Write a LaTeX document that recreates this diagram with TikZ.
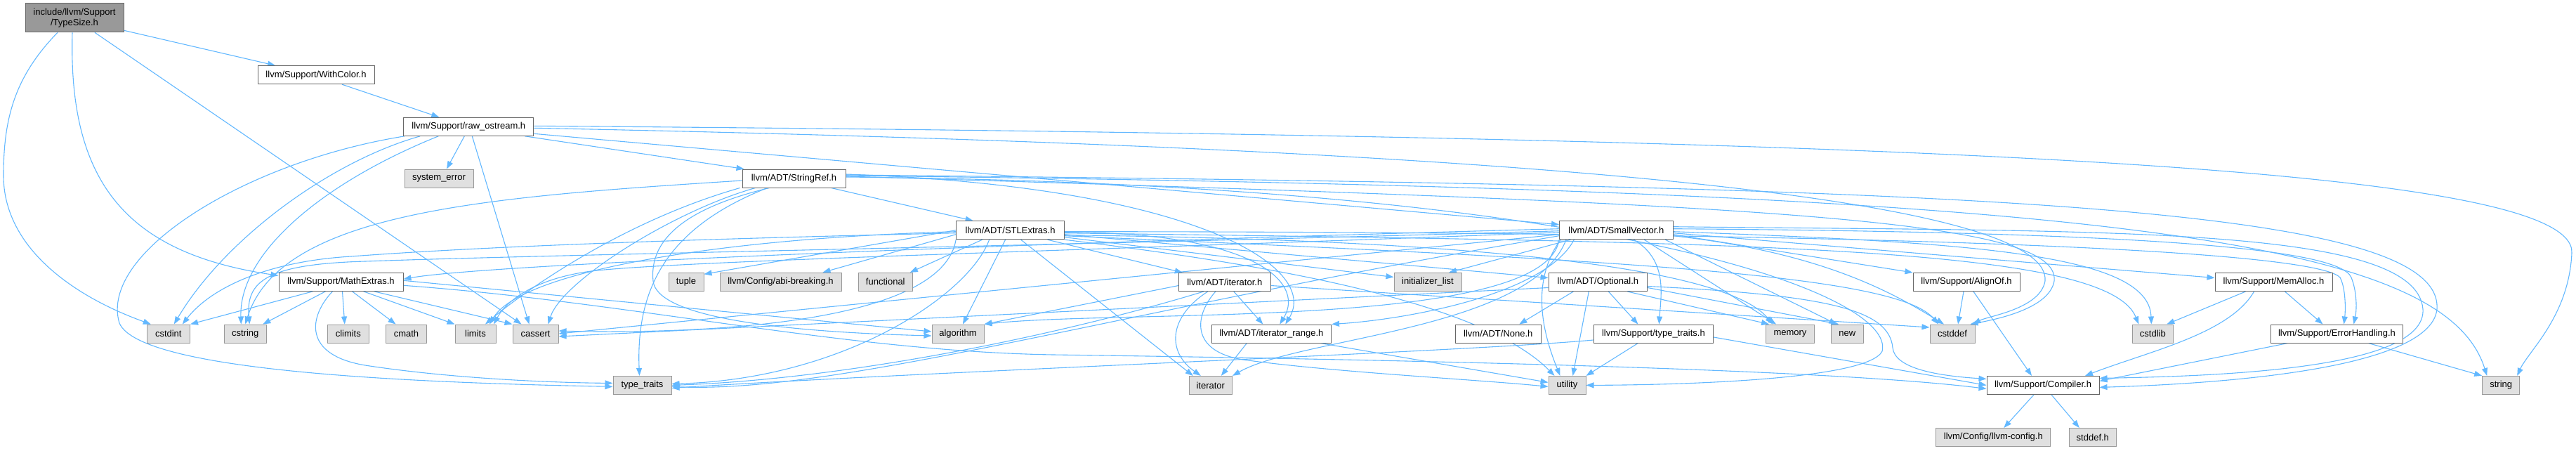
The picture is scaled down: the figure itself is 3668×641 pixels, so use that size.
\documentclass[tikz,border=0pt]{standalone}
\usepackage{fontspec}
\setmainfont{Liberation Sans}
\usetikzlibrary{arrows.meta,backgrounds}
\definecolor{edgec}{HTML}{63B8FF}
\definecolor{extfill}{HTML}{E0E0E0}
\definecolor{extdraw}{HTML}{999999}
\definecolor{docdraw}{HTML}{666666}
\definecolor{rootfill}{HTML}{999999}
\begin{document}
\begin{tikzpicture}[x=1pt,y=-1pt,
  box/.style={draw=docdraw,fill=white,line width=1pt,inner sep=0pt,minimum height=26pt,font=\fontsize{13}{15}\selectfont,anchor=center},
  ext/.style={box,draw=extdraw,fill=extfill},
  root/.style={box,draw=docdraw,fill=rootfill,minimum height=41pt,align=center},
  e/.style={draw=edgec,line width=1.1pt,-{Triangle[length=11pt,width=8pt]}}]
\useasboundingbox (0,0) rectangle (3668,641);
% nodes
\node[root, minimum width=140pt] (ts) at (106,25.3) {include/llvm/Support\\/TypeSize.h};
\node[box, minimum width=166pt] (wc) at (450,106.7) {llvm/Support/WithColor.h};
\node[box, minimum width=185pt] (ro) at (667.3,180.3) {llvm/Support/raw\_ostream.h};
\node[ext, minimum width=98pt] (se) at (625,254) {system\_error};
\node[box, minimum width=147pt] (sr) at (1130.5,254) {llvm/ADT/StringRef.h};
\node[box, minimum width=154pt] (stl) at (1438.6,327.7) {llvm/ADT/STLExtras.h};
\node[box, minimum width=161.5pt] (sv) at (2301.3,327.7) {llvm/ADT/SmallVector.h};
\node[box, minimum width=177pt] (me) at (485.5,401.3) {llvm/Support/MathExtras.h};
\node[ext, minimum width=50pt] (tup) at (977,401.3) {tuple};
\node[ext, minimum width=173pt] (abi) at (1111.5,401.3) {llvm/Config/abi-breaking.h};
\node[ext, minimum width=77.5pt] (fun) at (1260.8,401.3) {functional};
\node[box, minimum width=130.4pt] (ith) at (1743.8,401.5) {llvm/ADT/iterator.h};
\node[ext, minimum width=96pt] (il) at (2033,401.5) {initializer\_list};
\node[box, minimum width=140.5pt] (opt) at (2275.3,401.5) {llvm/ADT/Optional.h};
\node[box, minimum width=152pt] (ao) at (2800,401.5) {llvm/Support/AlignOf.h};
\node[box, minimum width=167pt] (ma) at (3237.5,401.5) {llvm/Support/MemAlloc.h};
\node[ext, minimum width=61.5pt] (cstdint) at (239.8,475) {cstdint};
\node[ext, minimum width=60.5pt] (cstring) at (349.3,475) {cstring};
\node[ext, minimum width=59.5pt] (climits) at (495.8,475) {climits};
\node[ext, minimum width=58pt] (cmath) at (578.5,475) {cmath};
\node[ext, minimum width=58pt] (limits) at (677,475) {limits};
\node[ext, minimum width=65pt] (cassert) at (762.5,475) {cassert};
\node[ext, minimum width=74pt] (algorithm) at (1364,475) {algorithm};
\node[box, minimum width=170.5pt] (itr) at (1810.3,475) {llvm/ADT/iterator\_range.h};
\node[box, minimum width=122.6pt] (none) at (2133.3,475) {llvm/ADT/None.h};
\node[box, minimum width=170.7pt] (stt) at (2354.4,475) {llvm/Support/type\_traits.h};
\node[ext, minimum width=69pt] (memory) at (2549,475) {memory};
\node[ext, minimum width=46pt] (new) at (2630.3,475) {new};
\node[ext, minimum width=64pt] (cstddef) at (2780,475) {cstddef};
\node[ext, minimum width=58.5pt] (cstdlib) at (3065.3,475) {cstdlib};
\node[box, minimum width=188pt] (eh) at (3327.5,475) {llvm/Support/ErrorHandling.h};
\node[ext, minimum width=83pt] (tt) at (914.5,548.4) {type\_traits};
\node[ext, minimum width=61.5pt] (iterator) at (1723.8,548.4) {iterator};
\node[ext, minimum width=53pt] (utility) at (2231.5,548.4) {utility};
\node[box, minimum width=160pt] (comp) at (2909,548.4) {llvm/Support/Compiler.h};
\node[ext, minimum width=53pt] (string) at (3561.2,548.4) {string};
\node[ext, minimum width=163pt] (lc) at (2838.3,622.5) {llvm/Config/llvm-config.h};
\node[ext, minimum width=67.5pt] (stddef) at (2979.8,622.5) {stddef.h};
% edges
\begin{scope}[on background layer]
% TypeSize
\draw[e] ([yshift=3pt]ts.south east) -- ([xshift=-58pt]wc.north);
\draw[e] ([xshift=-24pt]ts.south) .. controls (20,110) and (5,170) .. (5,250) .. controls (5,350) and (100,420) .. ([xshift=-25pt]cstdint.north);
\draw[e] ([xshift=-3pt]ts.south) .. controls (97,260) and (180,360) .. ([yshift=9pt]me.west);
\draw[e] ([xshift=29pt]ts.south) -- ([xshift=-20pt]cassert.north);
% WithColor
\draw[e] ([xshift=37pt]wc.south) -- ([xshift=-42pt]ro.north);
% raw_ostream
\draw[e] ([xshift=-6pt]ro.south) -- ([xshift=11pt]se.north);
\draw[e] ([xshift=5pt]ro.south) -- ([xshift=-9pt]cassert.north);
\draw[e] ([xshift=80pt]ro.south) -- ([xshift=3pt]sr.north west);
\draw[e] ([yshift=-10pt]ro.east) -- ([yshift=8pt]sv.west);
\draw[e] ([yshift=1pt]ro.east) .. controls (2800,195) and (3668,240) .. (3662,360) .. controls (3658,450) and (3600,500) .. ([xshift=-4pt]string.north east);
\draw[e] ([yshift=-2pt]ro.east) .. controls (2400,215) and (2920,300) .. (2912,400) .. controls (2905,440) and (2830,450) .. ([xshift=-3pt]cstddef.north east);
\draw[e] ([xshift=-69pt]ro.south) .. controls (470,230) and (320,340) .. ([xshift=8pt]cstdint.north);
\draw[e] ([xshift=-43pt]ro.south) .. controls (460,260) and (340,360) .. ([xshift=-6pt]cstring.north);
\draw[e] ([xshift=2pt]ro.south west) .. controls (350,230) and (140,360) .. (170,460) .. controls (200,530) and (600,545) .. ([yshift=-2pt]tt.west);
% StringRef
\draw[e] ([xshift=53pt]sr.south) -- ([xshift=-53pt]stl.north);
\draw[e] ([yshift=-3pt]sr.west) .. controls (700,280) and (400,300) .. (cstring.north);
\draw[e] ([xshift=-77pt]sr.south) .. controls (880,317) and (740,420) .. ([xshift=14pt]limits.north);
\draw[e] ([xshift=-55pt]sr.south) .. controls (960,300) and (800,400) .. ([xshift=18pt]cassert.north);
\draw[e] ([xshift=-38pt]sr.south) .. controls (960,320) and (905,400) .. ([xshift=-4pt]tt.north);
\draw[e] ([xshift=-35pt]sr.south) .. controls (960,300) and (925,350) .. (930,400) .. controls (935,450) and (1100,472) .. ([yshift=-3pt]algorithm.west);
\draw[e] ([yshift=6pt]sr.east) .. controls (1700,265) and (1880,380) .. ([xshift=20pt]itr.north);
\draw[e] ([yshift=5pt]sr.east) .. controls (2800,265) and (3480,290) .. (3470,440) .. controls (3462,520) and (3200,545) .. ([yshift=-3pt]comp.east);
\draw[e] ([yshift=3pt]sr.east) .. controls (2500,290) and (2935,310) .. (2925,400) .. controls (2918,440) and (2840,455) .. ([xshift=-7pt]cstddef.north east);
\draw[e] ([yshift=4pt]sr.east) .. controls (3000,270) and (3480,340) .. ([xshift=-20pt]string.north);
\draw[e] ([yshift=2pt]sr.east) .. controls (2300,262) and (2700,420) .. (2680,500) .. controls (2660,540) and (2400,548) .. (utility.east);
% STLExtras
\draw[e] ([xshift=53pt]stl.south) -- ([xshift=-60pt]ith.north);
\draw[e] ([yshift=-3pt]stl.east) .. controls (1780,330) and (1860,400) .. ([xshift=12pt]itr.north);
\draw[e] ([yshift=-6pt]stl.east) -- ([yshift=6pt]opt.west);
\draw[e] ([yshift=-10pt]stl.east) -- ([yshift=7pt]il.west);
\draw[e] ([yshift=-2pt]stl.east) .. controls (2800,330) and (3300,360) .. (3332,395) .. controls (3340,410) and (3340,440) .. ([xshift=10pt]eh.north);
\draw[e] ([yshift=-4pt]stl.east) .. controls (2500,345) and (3000,350) .. ([xshift=-20pt]cstdlib.north);
\draw[e] ([yshift=-8pt]stl.east) .. controls (2300,370) and (2700,390) .. ([xshift=-20pt]cstddef.north);
\draw[e] ([yshift=-7pt]stl.east) .. controls (2000,340) and (2450,370) .. ([xshift=-25pt]memory.north);
\draw[e] (stl.south east) .. controls (1750,370) and (2100,420) .. ([xshift=-18pt]utility.north);
\draw[e] ([xshift=15pt]stl.south) -- ([xshift=-25pt]iterator.north);
\draw[e] ([xshift=-7pt]stl.south) -- ([xshift=7pt]algorithm.north);
\draw[e] ([xshift=-40pt]stl.south) -- ([xshift=35pt]fun.north);
\draw[e] (stl.west) -- ([yshift=11pt]tup.east);
\draw[e] ([yshift=-6pt]stl.west) -- ([xshift=60pt]abi.north);
\draw[e] ([yshift=-4pt]stl.west) .. controls (1000,340) and (700,350) .. (500,365) .. controls (380,372) and (300,410) .. ([xshift=20pt]cstdint.north);
\draw[e] ([yshift=-2pt]stl.west) .. controls (1000,340) and (740,390) .. ([xshift=20pt]limits.north);
\draw[e] (stl.south west) .. controls (1340,470) and (950,475) .. ([yshift=4pt]cassert.east);
\draw[e] ([xshift=-30pt]stl.south) .. controls (1380,420) and (1200,540) .. ([yshift=2pt]tt.east);
% SmallVector
\draw[e] ([yshift=2pt]sv.west) .. controls (1500,345) and (700,375) .. ([yshift=4pt]me.east);
\draw[e] ([yshift=-1pt]sv.west) .. controls (1500,350) and (800,362) .. (520,372) .. controls (380,376) and (350,400) .. ([xshift=6pt]cstring.north);
\draw[e] ([yshift=-3pt]sv.west) .. controls (1600,355) and (1000,370) .. (850,385) .. controls (760,395) and (720,430) .. ([xshift=26pt]limits.north);
\draw[e] ([yshift=-6pt]sv.west) -- (cassert.east);
\draw[e] (sv.south west) .. controls (2200,470) and (1600,440) .. (algorithm.north east);
\draw[e] ([yshift=-8pt]sv.west) .. controls (1600,440) and (1200,560) .. ([yshift=-2pt]tt.east);
\draw[e] ([xshift=10pt]sv.south west) .. controls (2180,470) and (1850,480) .. (iterator.north east);
\draw[e] ([xshift=-60pt]sv.south) .. controls (2200,420) and (2000,455) .. (itr.north east);
\draw[e] ([xshift=-65pt]sv.south) -- ([xshift=30pt]il.north);
\draw[e] ([xshift=2pt]sv.south west) .. controls (2180,400) and (2195,470) .. ([xshift=-10pt]utility.north);
\draw[e] ([xshift=25pt]sv.south) .. controls (2375,370) and (2365,420) .. ([xshift=8pt]stt.north);
\draw[e] ([xshift=40pt]sv.south) -- ([xshift=-20pt]memory.north);
\draw[e] ([xshift=70pt]sv.south) -- ([xshift=-15pt]new.north);
\draw[e] ([yshift=-6pt]sv.east) -- (ao.north west);
\draw[e] ([yshift=-4pt]sv.east) -- ([yshift=6pt]ma.west);
\draw[e] ([yshift=2pt]sv.east) .. controls (3000,330) and (3330,350) .. (3348,395) .. controls (3356,415) and (3356,440) .. ([xshift=24pt]eh.north);
\draw[e] ([yshift=-2pt]sv.east) .. controls (2800,345) and (3060,360) .. ([xshift=-2pt]cstdlib.north);
\draw[e] ([yshift=-8pt]sv.east) .. controls (2600,360) and (2700,420) .. ([xshift=-12pt]cstddef.north);
\draw[e] ([yshift=5pt]sv.east) .. controls (3000,330) and (3440,320) .. (3450,440) .. controls (3455,520) and (3200,535) .. ([yshift=10pt]comp.east);
% MathExtras
\draw[e] ([xshift=-40pt]me.south) -- (cstdint.north east);
\draw[e] ([xshift=-22pt]me.south) -- ([xshift=25pt]cstring.north);
\draw[e] ([xshift=-12pt]me.south) .. controls (440,450) and (430,505) .. (520,520) .. controls (650,540) and (800,545) .. ([yshift=3pt]tt.west);
\draw[e] ([xshift=2pt]me.south) -- ([xshift=-5pt]climits.north);
\draw[e] ([xshift=16pt]me.south) -- ([xshift=-15pt]cmath.north);
\draw[e] ([xshift=32pt]me.south) -- (limits.north west);
\draw[e] ([xshift=47pt]me.south) -- (cassert.north west);
\draw[e] ([yshift=2pt]me.east) -- ([yshift=3pt]algorithm.west);
\draw[e] ([yshift=-5pt]me.east) .. controls (900,430) and (1200,500) .. (1500,505) .. controls (2000,512) and (2600,525) .. ([yshift=-5pt]comp.west);
% iterator.h
\draw[e] ([xshift=13pt]ith.south) -- ([xshift=-12pt]itr.north);
\draw[e] ([yshift=-5pt]ith.west) -- (algorithm.north east);
\draw[e] ([xshift=-24pt]ith.south) .. controls (1665,450) and (1660,500) .. ([xshift=-14pt]iterator.north);
\draw[e] ([xshift=-13pt]ith.south) .. controls (1700,450) and (1695,500) .. (1770,512) .. controls (1900,530) and (2100,540) .. ([yshift=-2pt]utility.west);
\draw[e] ([xshift=-30pt]ith.south) .. controls (1500,480) and (1200,540) .. (tt.east);
\draw[e] ([yshift=-5pt]ith.east) -- ([yshift=9pt]cstddef.west);
% iterator_range.h
\draw[e] ([xshift=-35pt]itr.south) -- ([xshift=15pt]iterator.north);
\draw[e] ([xshift=70pt]itr.south) -- ([yshift=4pt]utility.west);
% Optional.h
\draw[e] ([xshift=-35pt]opt.south) -- ([xshift=30pt]none.north);
\draw[e] ([xshift=-13pt]opt.south) -- ([xshift=8pt]utility.north);
\draw[e] ([xshift=15pt]opt.south) -- ([xshift=-22pt]stt.north);
\draw[e] ([xshift=42pt]opt.south) -- ([xshift=-30pt]memory.north);
\draw[e] ([yshift=-8pt]opt.east) -- ([xshift=-12pt]new.north);
\draw[e] ([yshift=-6pt]opt.east) .. controls (2600,420) and (2690,440) .. (2695,495) .. controls (2698,525) and (2760,535) .. ([yshift=9pt]comp.west);
\draw[e] ([yshift=-8pt]opt.west) -- ([yshift=-4pt]cassert.east);
% Support/type_traits.h
\draw[e] ([xshift=-22pt]stt.south) -- (utility.north east);
\draw[e] ([yshift=-9pt]stt.west) .. controls (2100,500) and (1300,530) .. ([yshift=-4pt]tt.east);
\draw[e] ([yshift=-5pt]stt.east) -- (comp.west);
% AlignOf, MemAlloc, ErrorHandling
\draw[e] ([xshift=-4pt]ao.south) -- ([xshift=8pt]cstddef.north);
\draw[e] ([xshift=10pt]ao.south) -- ([xshift=-16pt]comp.north);
\draw[e] ([xshift=-40pt]ma.south) -- ([xshift=20pt]cstdlib.north);
\draw[e] ([xshift=-28pt]ma.south) .. controls (3175,475) and (3060,500) .. ([xshift=60pt]comp.north);
\draw[e] ([xshift=16pt]ma.south) -- ([xshift=-20pt]eh.north);
\draw[e] ([xshift=-70pt]eh.south) -- ([yshift=6pt]comp.east);
\draw[e] ([xshift=45pt]eh.south) -- (string.north west);
% Compiler
\draw[e] ([xshift=-13pt]comp.south) -- ([xshift=15pt]lc.north);
\draw[e] ([xshift=12pt]comp.south) -- ([xshift=-19pt]stddef.north);
\end{scope}
\end{tikzpicture}
\end{document}
